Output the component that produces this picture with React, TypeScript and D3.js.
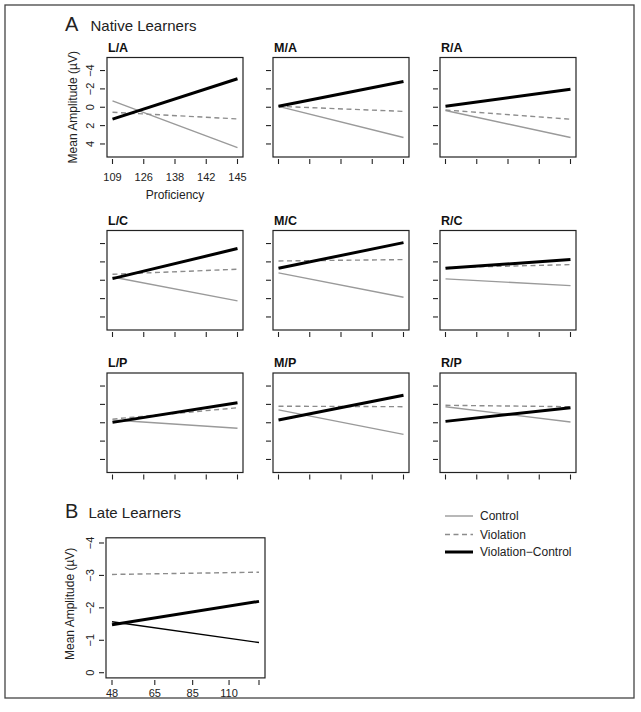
import React from "react";
import * as d3 from "d3";

// ---------- DATA ----------
const panelNames = ["L/A", "M/A", "R/A", "L/C", "M/C", "R/C", "L/P", "M/P", "R/P"];
const nativeProficiency = ["109", "126", "138", "142", "145"];
const nativeYTicks = [-4, -2, 0, 2, 4];

// amplitude (µV) at lowest and highest proficiency, per panel
const controlStart = [-0.7, -0.1, 0.35, -0.36, -0.8, -0.15, -0.3, -1.4, -1.75];
const controlEnd = [4.4, 3.3, 3.3, 2.25, 1.85, 0.58, 0.6, 1.27, -0.08];
const violationStart = [0.55, -0.1, 0.3, -0.65, -2.1, -1.38, -0.4, -1.8, -1.9];
const violationEnd = [1.27, 0.45, 1.3, -1.2, -2.25, -1.7, -1.63, -1.75, -1.75];
const diffStart = [1.3, -0.1, -0.1, -0.18, -1.3, -1.3, -0.04, -0.3, -0.15];
const diffEnd = [-3.1, -2.8, -1.95, -3.45, -4.1, -2.25, -2.17, -3.0, -1.63];

const lateProficiency = [48, 65, 85, 110, 136];
const lateProficiencyLabels = ["48", "65", "85", "110", ""];
const lateYTicks = [-4, -3, -2, -1, 0];
const lateControl = [-1.57, -0.93];
const lateViolation = [-3.03, -3.1];
const lateDiff = [-1.48, -2.2];

const legendLabels = ["Control", "Violation", "Violation\u2212Control"];

// ---------- STYLE ----------
const FONT = "'Liberation Sans', Arial, Helvetica, sans-serif";
const GREY = "#9a9a9a";
const DASH_GREY = "#8c8c8c";

const colLefts = [107, 273, 440];
const rowTops = [57.5, 230.5, 373];
const boxW = 136;
const boxH = 99.5;

const fmt = (v: number) => (v < 0 ? "\u2212" + Math.abs(v) : String(v));

function Panel({ idx }: { idx: number }) {
  const col = idx % 3;
  const row = Math.floor(idx / 3);
  const x0 = colLefts[col];
  const y0 = rowTops[row];
  const x = d3.scalePoint<string>().domain(nativeProficiency).range([x0 + 5.5, x0 + boxW - 5.5]);
  const y = d3.scaleLinear().domain([-5.42, 5.42]).range([y0, y0 + boxH]);
  const first = nativeProficiency[0];
  const last = nativeProficiency[nativeProficiency.length - 1];
  const line = d3
    .line<[string, number]>()
    .x((d) => x(d[0]) as number)
    .y((d) => y(d[1]));
  const showLabels = idx === 0;
  return (
    <g>
      <text x={x0 + 1} y={y0 - 6} fontFamily={FONT} fontWeight="bold" fontSize={12.5} fill="#111">
        {panelNames[idx]}
      </text>
      <path
        d={line([[first, controlStart[idx]], [last, controlEnd[idx]]]) || ""}
        stroke={GREY}
        strokeWidth={1.4}
        fill="none"
      />
      <path
        d={line([[first, violationStart[idx]], [last, violationEnd[idx]]]) || ""}
        stroke={DASH_GREY}
        strokeWidth={1.4}
        strokeDasharray="5,3.5"
        fill="none"
      />
      <path
        d={line([[first, diffStart[idx]], [last, diffEnd[idx]]]) || ""}
        stroke="#000"
        strokeWidth={3}
        fill="none"
      />
      <rect x={x0} y={y0} width={boxW} height={boxH} fill="none" stroke="#222" strokeWidth={1.2} />
      {nativeProficiency.map((p) => (
        <g key={p}>
          <line x1={x(p)} x2={x(p)} y1={y0 + boxH + 2} y2={y0 + boxH + 7} stroke="#222" strokeWidth={1.1} />
          {showLabels && (
            <text x={x(p)} y={y0 + boxH + 24} textAnchor="middle" fontFamily={FONT} fontSize={11} fill="#222">
              {p}
            </text>
          )}
        </g>
      ))}
      {nativeYTicks.map((t) => (
        <g key={t}>
          <line x1={x0 - 2} x2={x0 - 7} y1={y(t)} y2={y(t)} stroke="#222" strokeWidth={1.1} />
          {showLabels && (
            <text
              transform={`translate(${x0 - 13},${y(t)}) rotate(-90)`}
              textAnchor="middle"
              fontFamily={FONT}
              fontSize={11}
              fill="#222"
            >
              {fmt(t)}
            </text>
          )}
        </g>
      ))}
      {showLabels && (
        <>
          <text x={(x0 + x0 + boxW) / 2} y={y0 + boxH + 42} textAnchor="middle" fontFamily={FONT} fontSize={12} fill="#222">
            Proficiency
          </text>
          <text
            transform={`translate(${x0 - 30},${y0 + boxH / 2}) rotate(-90)`}
            textAnchor="middle"
            fontFamily={FONT}
            fontSize={12}
            fill="#222"
          >
            Mean Amplitude (µV)
          </text>
        </>
      )}
    </g>
  );
}

function LatePanel() {
  const x0 = 106;
  const x1 = 265;
  const y0 = 537.8;
  const y1 = 677.9;
  const xl = d3.scaleLog().domain([lateProficiency[0], lateProficiency[lateProficiency.length - 1]]);
  const pad = 6;
  xl.range([x0 + pad, x1 - pad]);
  const y = d3.scaleLinear().domain([-4.16, 0.16]).range([y0, y1]);
  const a = lateProficiency[0];
  const b = lateProficiency[lateProficiency.length - 1];
  const line = d3
    .line<[number, number]>()
    .x((d) => xl(d[0]))
    .y((d) => y(d[1]));
  return (
    <g>
      <text x={65} y={517.5} fontFamily={FONT} fontSize={20} fill="#222">
        B
      </text>
      <text x={88.5} y={517.5} fontFamily={FONT} fontSize={15} fill="#222">
        Late Learners
      </text>
      <path d={line([[a, lateViolation[0]], [b, lateViolation[1]]]) || ""} stroke={DASH_GREY} strokeWidth={1.4} strokeDasharray="5,3.5" fill="none" />
      <path d={line([[a, lateControl[0]], [b, lateControl[1]]]) || ""} stroke="#000" strokeWidth={1.4} fill="none" />
      <path d={line([[a, lateDiff[0]], [b, lateDiff[1]]]) || ""} stroke="#000" strokeWidth={3} fill="none" />
      <rect x={x0} y={y0} width={x1 - x0} height={y1 - y0} fill="none" stroke="#222" strokeWidth={1.2} />
      {lateProficiency.map((p, i) => (
        <g key={p}>
          <line x1={xl(p)} x2={xl(p)} y1={y1 + 2} y2={y1 + 7} stroke="#222" strokeWidth={1.1} />
          <text x={xl(p)} y={y1 + 19} textAnchor="middle" fontFamily={FONT} fontSize={11} fill="#222">
            {lateProficiencyLabels[i]}
          </text>
        </g>
      ))}
      {lateYTicks.map((t) => (
        <g key={t}>
          <line x1={x0 - 2} x2={x0 - 7} y1={y(t)} y2={y(t)} stroke="#222" strokeWidth={1.1} />
          <text
            transform={`translate(${x0 - 12},${y(t)}) rotate(-90)`}
            textAnchor="middle"
            fontFamily={FONT}
            fontSize={11}
            fill="#222"
          >
            {fmt(t)}
          </text>
        </g>
      ))}
      <text
        transform={`translate(${x0 - 32},${(y0 + y1) / 2 - 4}) rotate(-90)`}
        textAnchor="middle"
        fontFamily={FONT}
        fontSize={12}
        fill="#222"
      >
        Mean Amplitude (µV)
      </text>
    </g>
  );
}

function Legend() {
  const ys = [516, 534.5, 552];
  return (
    <g>
      {legendLabels.map((l, i) => (
        <g key={l}>
          <line
            x1={445}
            x2={473}
            y1={ys[i]}
            y2={ys[i]}
            stroke={i === 0 ? GREY : i === 1 ? DASH_GREY : "#000"}
            strokeWidth={i === 2 ? 3 : 1.4}
            strokeDasharray={i === 1 ? "5,3.5" : undefined}
          />
          <text x={480} y={ys[i] + 4.2} fontFamily={FONT} fontSize={12} fill="#222">
            {l}
          </text>
        </g>
      ))}
    </g>
  );
}

export default function App() {
  return (
    <svg
      width={641}
      height={712}
      style={{ position: "absolute", left: 0, top: 0, background: "#fff" }}
    >
      <rect x={0} y={0} width={641} height={712} fill="#fff" />
      <rect x={5} y={5} width={629} height={693} fill="none" stroke="#444" strokeWidth={1.3} />
      <text x={65} y={31} fontFamily={FONT} fontSize={20} fill="#222">
        A
      </text>
      <text x={90.5} y={31} fontFamily={FONT} fontSize={15} fill="#222">
        Native Learners
      </text>
      {panelNames.map((_, i) => (
        <Panel key={i} idx={i} />
      ))}
      <LatePanel />
      <Legend />
    </svg>
  );
}
